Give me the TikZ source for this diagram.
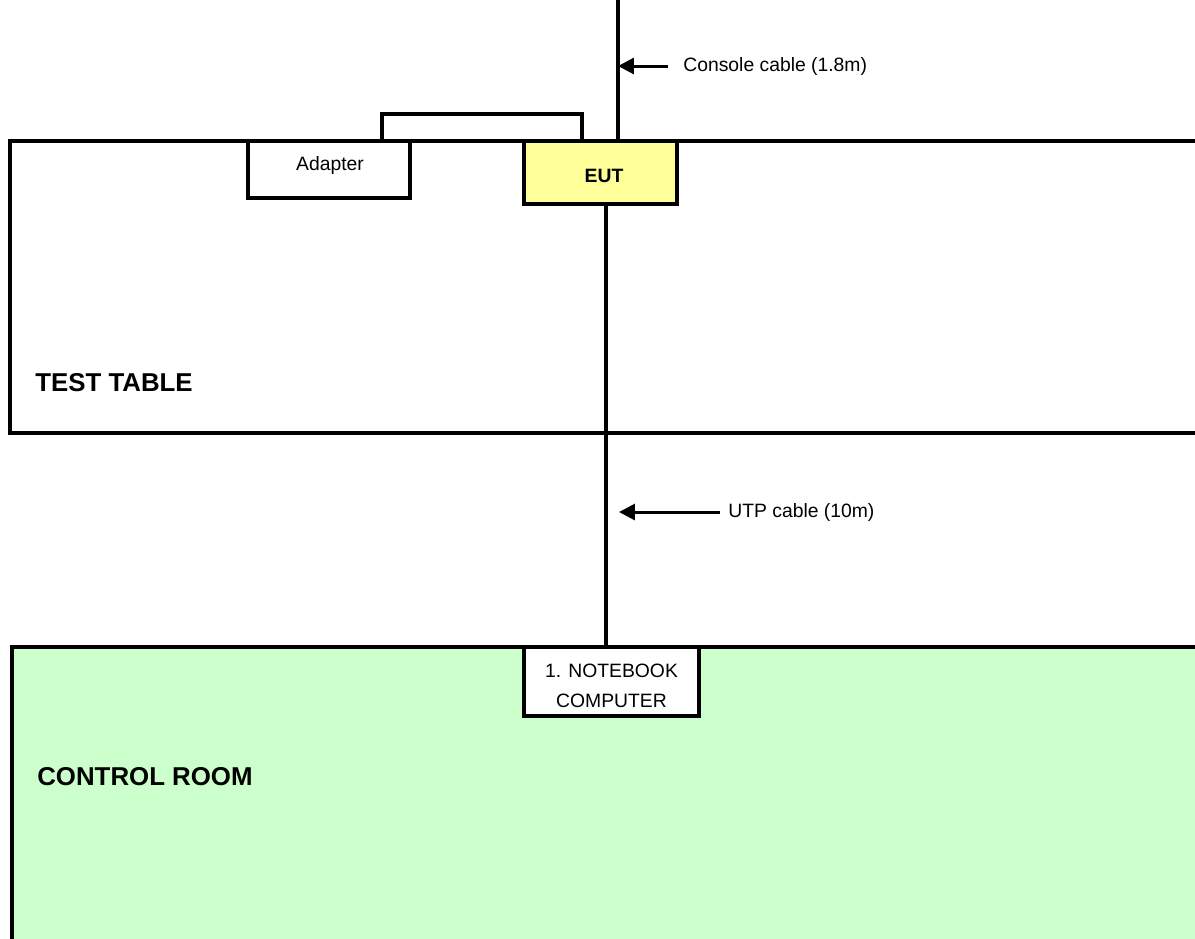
\documentclass[tikz,border=0pt]{standalone}
\usepackage{fontspec}
\setmainfont{Liberation Sans}
\usetikzlibrary{arrows.meta,calc,positioning}
\definecolor{tyel}{RGB}{255,255,153}
\definecolor{rgrn}{RGB}{204,255,204}
\tikzset{
  area/.style={draw=black,line width=2.3pt},
  dev/.style={draw=black,line width=2.3pt,fill=white,inner sep=0pt},
  cable/.style={draw=black,line width=1.8pt},
  callout/.style={-{Triangle[length=9pt,width=9pt]},line width=1.7pt},
  lbl/.style={font=\fontsize{11}{17}\selectfont,inner sep=0pt},
  zone/.style={font=\bfseries\fontsize{14.7}{17}\selectfont,inner sep=0pt},
}

\begin{document}
\begin{tikzpicture}[x=0.02cm,y=-0.02cm]
\clip (0,0) rectangle (1195,938);
\fill[white] (0,0) rectangle (1195,938);
\draw[area] (10,141) rectangle (1240,433);
\draw[area,fill=rgrn] (12,647) rectangle (1240,990);
\node[dev,minimum width=3.24cm,minimum height=1.14cm] (adapter) at (329,169.5) {};
\node[lbl] (adapterlbl) at (330,165) {Adapter};
\node[dev,fill=tyel,minimum width=3.06cm,minimum height=1.26cm] (eut) at (600.5,172.5) {};
\node[lbl,font=\bfseries\fontsize{11}{13}\selectfont] (eutlbl) at (604,176) {EUT};
\node[dev,minimum width=3.5cm,minimum height=1.38cm] (notebook) at (611.5,681.5) {};
\node[lbl,align=center] (notebooklbl) at (611.5,686) {1. NOTEBOOK\\COMPUTER};
\node[zone,anchor=west] (tablelbl) at (35,383) {TEST TABLE};
\node[zone,anchor=west] (roomlbl) at (37,777) {CONTROL ROOM};
\coordinate (conx) at (618,0);
\coordinate (utpx) at (606,0);
\draw[cable] (conx) -- (eut.north -| conx);
\draw[cable] (eut.south -| utpx) -- (notebook.north -| utpx);
\draw[cable] ($(adapter.north)+(53,0)$) |- ($(eut.north)+(-18.5,-25)$) -- ($(eut.north)+(-18.5,0)$);
\coordinate (contail) at (668,66);
\draw[callout] (contail) -- (contail -| conx);
\node[lbl,right=0.3cm of contail] (conlbl) {Console cable (1.8m)};
\coordinate (utptail) at (720,512);
\draw[callout,shorten >=0.26cm] (utptail) -- (utptail -| utpx);
\node[lbl,right=0.16cm of utptail] (utplbl) {UTP cable (10m)};
\end{tikzpicture}
\end{document}
